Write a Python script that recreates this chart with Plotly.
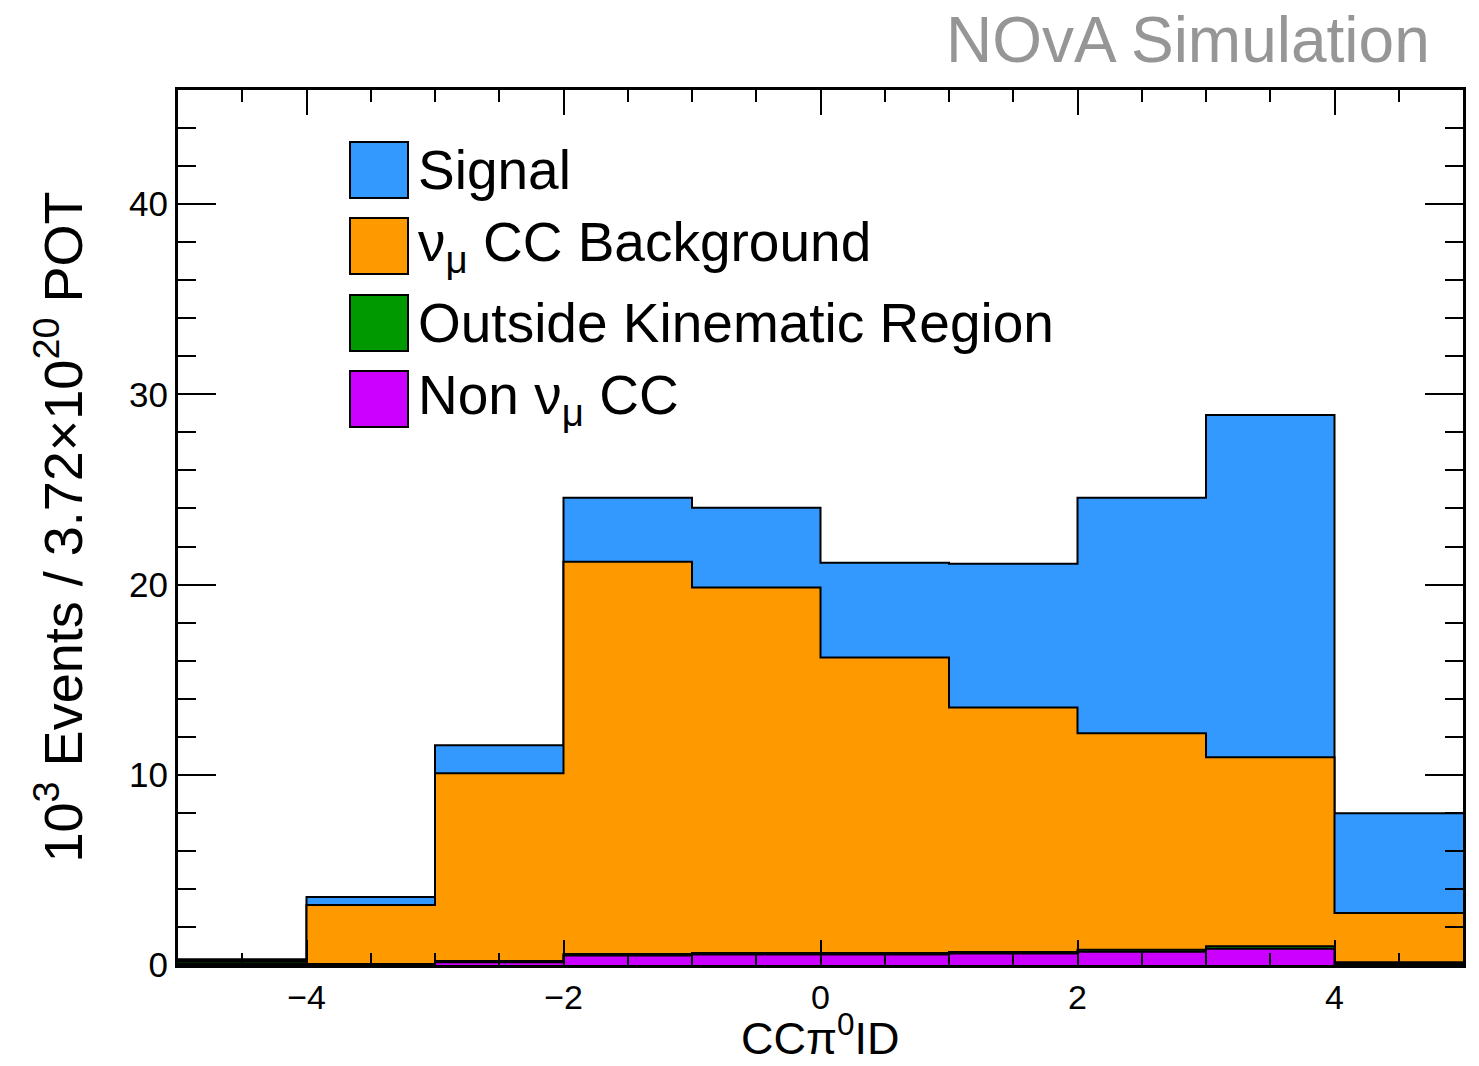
import plotly.graph_objects as go
import numpy as np

# Bin edges of CCpi0ID histogram
bin_edges = [-5, -4, -3, -2, -1, 0, 1, 2, 3, 4, 5]

# Stacked components (10^3 events), bottom to top
non_numu_cc = [0.05, 0.02, 0.15, 0.50, 0.55, 0.55, 0.60, 0.70, 0.85, 0.05]
outside_kin = [0.12, 0.03, 0.06, 0.08, 0.08, 0.08, 0.08, 0.10, 0.14, 0.10]
numu_cc_bkg = [0.08, 3.10, 9.87, 20.62, 19.21, 15.54, 12.86, 11.38, 9.93, 2.58]
signal      = [0.05, 0.42, 1.47, 3.37, 4.20, 4.98, 7.56, 12.39, 18.00, 5.25]

names = ["Non ν<sub>μ</sub> CC", "Outside Kinematic Region",
         "ν<sub>μ</sub> CC Background", "Signal"]
colors = ["rgb(204,0,255)", "rgb(0,153,0)", "rgb(255,153,0)", "rgb(51,153,255)"]
layers = [non_numu_cc, outside_kin, numu_cc_bkg, signal]

cum = np.cumsum(np.array(layers), axis=0)

FONT = "Liberation Sans, Arial, Helvetica, sans-serif"

fig = go.Figure()
# draw from top of stack down (THStack style)
for i in reversed(range(len(layers))):
    yv = list(cum[i]) + [cum[i][-1]]
    fig.add_trace(go.Scatter(
        x=bin_edges, y=yv, mode="lines", line_shape="hv",
        line=dict(color="black", width=2),
        fill="tozeroy", fillcolor=colors[i], name=names[i], showlegend=False,
        hoverinfo="skip"))

# plot-area geometry in pixels (for legend placement)
W, H = 1479, 1066
L, R, T, B = 178, 16, 90, 101
pw, ph = W - L - R, H - T - B

def px(x):
    return (x - L) / pw

def py(y):
    return (H - B - y) / ph

legend_order = [3, 2, 1, 0]
centers = [170, 246, 323, 399]
shapes = []
annotations = []
for k, c in zip(legend_order, centers):
    shapes.append(dict(type="rect", xref="paper", yref="paper",
                       x0=px(350), x1=px(408), y0=py(c + 28), y1=py(c - 28),
                       fillcolor=colors[k], line=dict(color="black", width=2)))
    annotations.append(dict(xref="paper", yref="paper", x=px(416), y=py(c),
                            xanchor="left", yanchor="middle", showarrow=False,
                            text=names[k], font=dict(family=FONT, size=55, color="black")))

annotations.append(dict(xref="paper", yref="paper", x=px(1432), y=py(40),
                        xanchor="right", yanchor="middle", showarrow=False,
                        text="NOvA Simulation",
                        font=dict(family=FONT, size=64, color="rgb(150,150,150)")))
annotations.append(dict(xref="paper", yref="paper", x=px(59), y=0.5,
                        xanchor="center", yanchor="middle", showarrow=False, textangle=-90,
                        text="10<sup>3</sup> Events / 3.72×10<sup>20</sup> POT",
                        font=dict(family=FONT, size=54, color="black")))
annotations.append(dict(xref="paper", yref="paper", x=0.5, y=py(1066),
                        xanchor="center", yanchor="bottom", showarrow=False,
                        text="CCπ<sup>0</sup>ID",
                        font=dict(family=FONT, size=45, color="black")))

fig.update_layout(
    width=W, height=H,
    margin=dict(l=L, r=R, t=T, b=B),
    paper_bgcolor="white", plot_bgcolor="white",
    shapes=shapes, annotations=annotations,
    showlegend=False,
)
fig.update_xaxes(range=[-5, 5], dtick=2, tick0=0, ticks="inside", ticklen=25,
                 tickwidth=2, tickcolor="black", showgrid=False, zeroline=False,
                 showline=True, linecolor="black", linewidth=3, mirror="allticks",
                 tickfont=dict(family=FONT, size=34, color="black"),
                 minor=dict(dtick=0.5, ticks="inside", ticklen=12, tickwidth=2,
                            tickcolor="black", showgrid=False))
fig.update_yaxes(range=[0, 46], dtick=10, tick0=0, ticks="inside", ticklen=38,
                 tickwidth=2, tickcolor="black", showgrid=False, zeroline=False,
                 showline=True, linecolor="black", linewidth=3, mirror="allticks",
                 tickfont=dict(family=FONT, size=35, color="black"),
                 minor=dict(dtick=2, ticks="inside", ticklen=18, tickwidth=2,
                            tickcolor="black", showgrid=False))

fig.write_html("out.html")
